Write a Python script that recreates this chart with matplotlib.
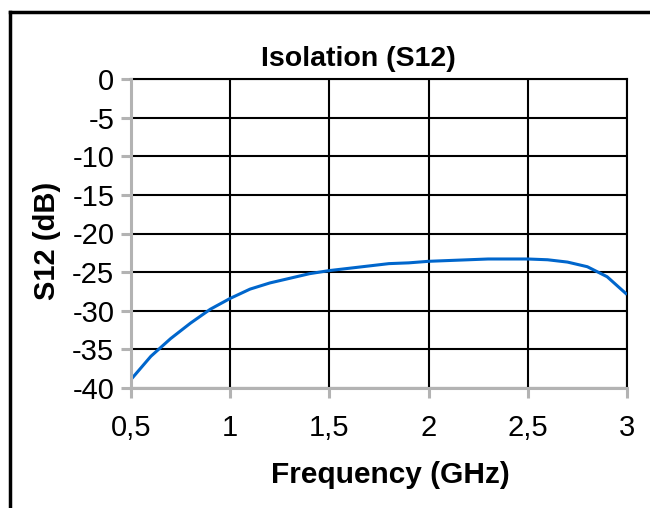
import matplotlib
matplotlib.use("Agg")
import matplotlib.pyplot as plt
from matplotlib.lines import Line2D
from matplotlib.ticker import FuncFormatter, MultipleLocator

freq_ghz = [0.5, 0.6, 0.7, 0.8, 0.9, 1.0, 1.1, 1.2, 1.3, 1.4, 1.5, 1.6, 1.7,
            1.8, 1.9, 2.0, 2.1, 2.2, 2.3, 2.4, 2.5, 2.6, 2.7, 2.8, 2.9, 3.0]
s12_db = [-38.9, -35.9, -33.6, -31.6, -29.8, -28.4, -27.2, -26.4, -25.8, -25.2,
          -24.8, -24.5, -24.2, -23.9, -23.8, -23.6, -23.5, -23.4, -23.3, -23.3,
          -23.3, -23.4, -23.7, -24.3, -25.6, -27.9]
title = "Isolation (S12)"
xlabel = "Frequency (GHz)"
ylabel = "S12 (dB)"

plt.rcParams['font.family'] = ['Liberation Sans', 'DejaVu Sans']
plt.rcParams['axes.unicode_minus'] = False

fig = plt.figure(figsize=(6.5, 5.08), dpi=100)
ax = fig.add_axes([131/650, 1-388/508, (627-131)/650, (388-79)/508])

ax.plot(freq_ghz, s12_db, color='#0066cc', lw=2.2, zorder=3, solid_capstyle='butt')
ax.set_xlim(0.5, 3.0)
ax.set_ylim(-40, 0)
ax.xaxis.set_major_locator(MultipleLocator(0.5))
ax.yaxis.set_major_locator(MultipleLocator(5))

def fmt(v, pos):
    s = ('%g' % round(v, 3))
    return s.replace('.', ',')
ax.xaxis.set_major_formatter(FuncFormatter(fmt))
ax.yaxis.set_major_formatter(FuncFormatter(fmt))

ax.set_axisbelow(True)
ax.grid(True, color='black', lw=1.5)
for side in ['left', 'bottom']:
    ax.spines[side].set_color('#b3b3b3')
    ax.spines[side].set_linewidth(2.2)
    ax.spines[side].set_zorder(4)
for side in ['top', 'right']:
    ax.spines[side].set_color('black')
    ax.spines[side].set_linewidth(1.5)

ax.tick_params(axis='both', direction='out', length=7, width=2.2, color='#b3b3b3',
               labelsize=21, labelcolor='black')
ax.tick_params(axis='y', pad=5)
ax.tick_params(axis='x', pad=12)

ax.set_title(title, fontsize=20.5, fontweight='bold', pad=9, x=0.458)
ax.set_xlabel(xlabel, fontsize=21.5, fontweight='bold', labelpad=14)
ax.xaxis.set_label_coords(0.522, -0.235)
ax.set_ylabel(ylabel, fontsize=21, fontweight='bold', labelpad=8)
ax.yaxis.label.set_y(0.476)

fig.add_artist(Line2D([9.5/650, 9.5/650], [0, 1-11.5/508], transform=fig.transFigure,
                      color='black', lw=2.5, solid_capstyle='projecting'))
fig.add_artist(Line2D([9.5/650, 1.0], [1-11.5/508, 1-11.5/508], transform=fig.transFigure,
                      color='black', lw=2.5, solid_capstyle='projecting'))

fig.savefig('out.png', dpi=100)
